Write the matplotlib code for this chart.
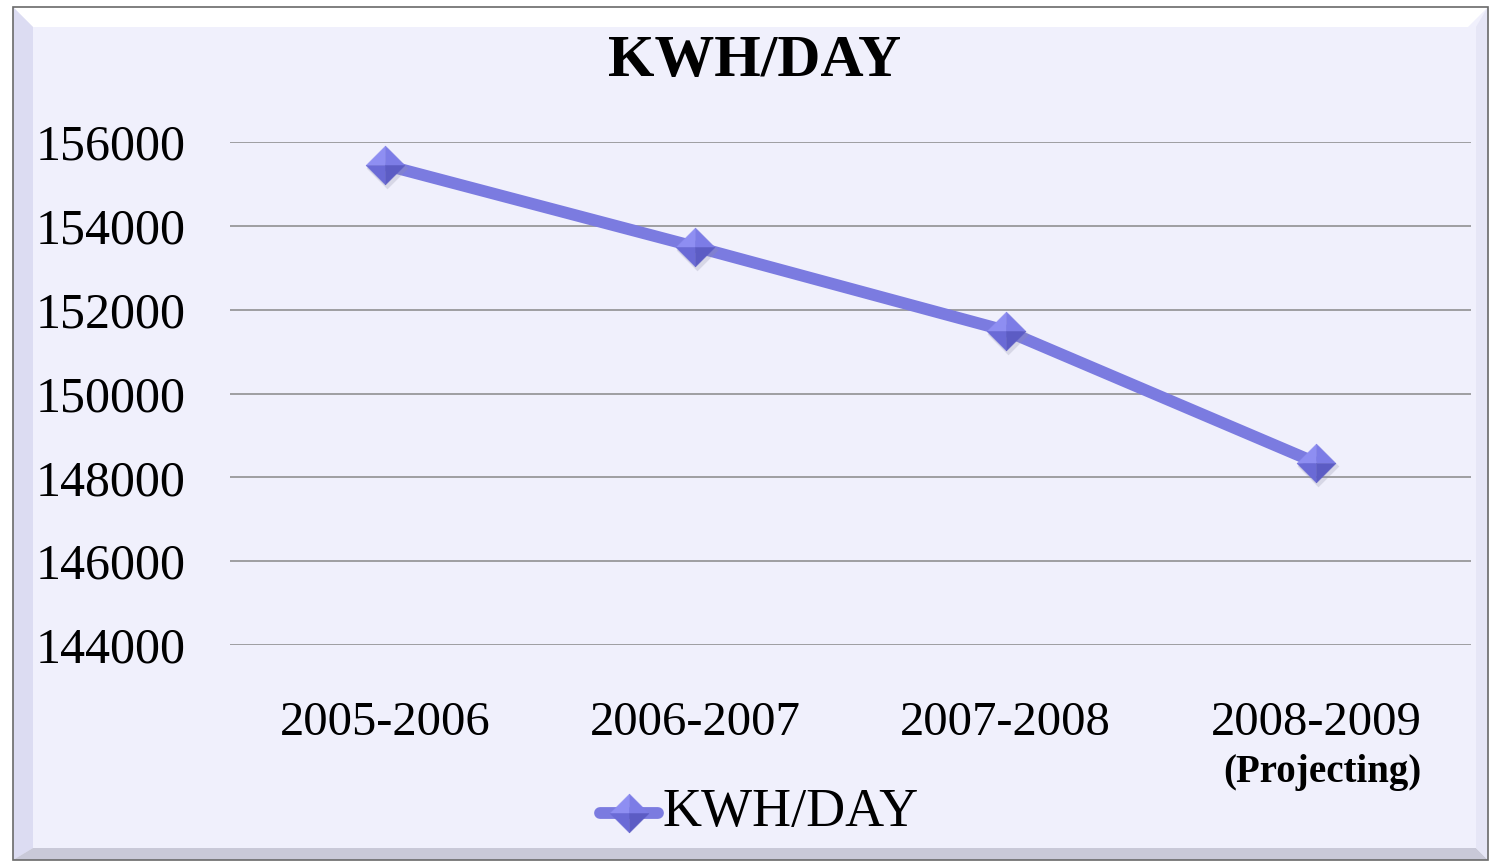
import matplotlib
matplotlib.use('Agg')
import matplotlib.pyplot as plt
import numpy as np
from matplotlib.patches import Polygon, Rectangle
from matplotlib.path import Path
import matplotlib.transforms as mtransforms

# data
categories = ['2005-2006', '2006-2007', '2007-2008', '2008-2009']
kwh_per_day = [155450, 153500, 151500, 148350]
series_name = 'KWH/DAY'
y_ticks = [144000, 146000, 148000, 150000, 152000, 154000, 156000]

W, H, DPI = 1490, 865, 100
BG = '#f0f0fc'
LINE = '#7b7be0'
SERIF = ['Liberation Serif', 'DejaVu Serif']

fig = plt.figure(figsize=(W / DPI, H / DPI), dpi=DPI)
fig.patch.set_facecolor('white')


def px(x, y):
    # pixel (from top-left) -> figure fraction
    return (x / W, 1 - y / H)


def frame_poly(pts, color):
    fig.add_artist(Polygon([px(*p) for p in pts], closed=True, facecolor=color,
                           edgecolor='none', transform=fig.transFigure, zorder=0))


# bevelled frame
L, T, R, B = 13, 7, 1488, 860
bw = 20
frame_poly([(L, T), (R, T), (R, B), (L, B)], BG)
frame_poly([(L, T), (R, T), (R - bw, T + bw), (L + bw, T + bw)], '#ffffff')
frame_poly([(L, T), (L + bw, T + bw), (L + bw, B - 12), (L, B)], '#dcdcf2')
frame_poly([(L, B), (L + bw, B - 12), (R - 12, B - 12), (R, B)], '#c9c9d8')
frame_poly([(R, T), (R, B), (R - 12, B - 12), (R - 12, T + bw)], '#e6e6f6')
fig.add_artist(Rectangle(px(L, B), (R - L) / W, (B - T) / H, fill=False,
                         edgecolor='#6a6a6a', lw=1.2, transform=fig.transFigure, zorder=1))

ax = fig.add_axes([230 / W, 220 / H, (1471 - 230) / W, (645 - 142) / H])
ax.set_facecolor('none')

x = np.arange(len(categories))
ax.set_xlim(-0.5, len(categories) - 0.5)
ax.set_ylim(144000, 156000)
ax.set_yticks(y_ticks)
ax.set_yticklabels([str(v) for v in y_ticks], family=SERIF, fontsize=36,
                   va='center_baseline')
ax.set_xticks(x)
ax.set_xticklabels(categories, family=SERIF, fontsize=35)
ax.tick_params(axis='y', length=0, pad=32)
ax.tick_params(axis='x', length=0, pad=40)
ax.yaxis.grid(True, color='#888888', lw=1.1)
ax.set_axisbelow(True)
for s in ax.spines.values():
    s.set_visible(False)

ax.plot(x, kwh_per_day, color=LINE, lw=8.5, solid_capstyle='butt', zorder=3)

# pyramid diamond markers: four shaded faces plus a soft shadow
ms = 14
faces = [
    ([(0, 0), (-1, 0), (0, 1)], '#8e8ef2'),
    ([(0, 0), (0, 1), (1, 0)], '#7c7ce6'),
    ([(0, 0), (-1, 0), (0, -1)], '#6a6ad6'),
    ([(0, 0), (0, -1), (1, 0)], '#5c5cc4'),
]
shadow_off = mtransforms.offset_copy(ax.transData, fig=fig, x=2, y=-3, units='dots')
diamond = Path([(-1, 0), (0, 1), (1, 0), (0, -1), (-1, 0)], closed=True)
ax.plot(x, kwh_per_day, ls='none', marker=diamond, ms=ms * 2 + 2, mfc='#9090a8',
        mec='none', alpha=0.25, transform=shadow_off, zorder=4)
for verts, col in faces:
    tri = Path(verts + [verts[0]], closed=True)
    ax.plot(x, kwh_per_day, ls='none', marker=tri, ms=ms * 2, mfc=col,
            mec=col, mew=0.3, zorder=5)

# title
fig.text(755 / W, 1 - 62 / H, 'KWH/DAY', ha='center', va='center', family=SERIF,
         fontsize=43, fontweight='bold')

# projecting note under last category
ax.annotate('(Projecting)', xy=(x[-1], 0), xycoords=('data', 'axes fraction'),
            xytext=(5, -92), textcoords='offset points', ha='center', va='center',
            family=SERIF, fontsize=28, fontweight='bold')

# legend
lx0, lx1, ly = 600 / W, 658 / W, 1 - 813 / H
fig.add_artist(plt.Line2D([lx0, lx1], [ly, ly], color=LINE, lw=8.5,
                          solid_capstyle='round', transform=fig.transFigure, zorder=6))
for verts, col in faces:
    tri = Path(verts + [verts[0]], closed=True)
    fig.add_artist(plt.Line2D([(lx0 + lx1) / 2], [ly], ls='none', marker=tri,
                              ms=ms * 2, mfc=col, mec=col, mew=0.3,
                              transform=fig.transFigure, zorder=7))
fig.text(662 / W, ly, series_name, ha='left', va='center', family=SERIF, fontsize=39)

fig.savefig('out.png', dpi=DPI)
